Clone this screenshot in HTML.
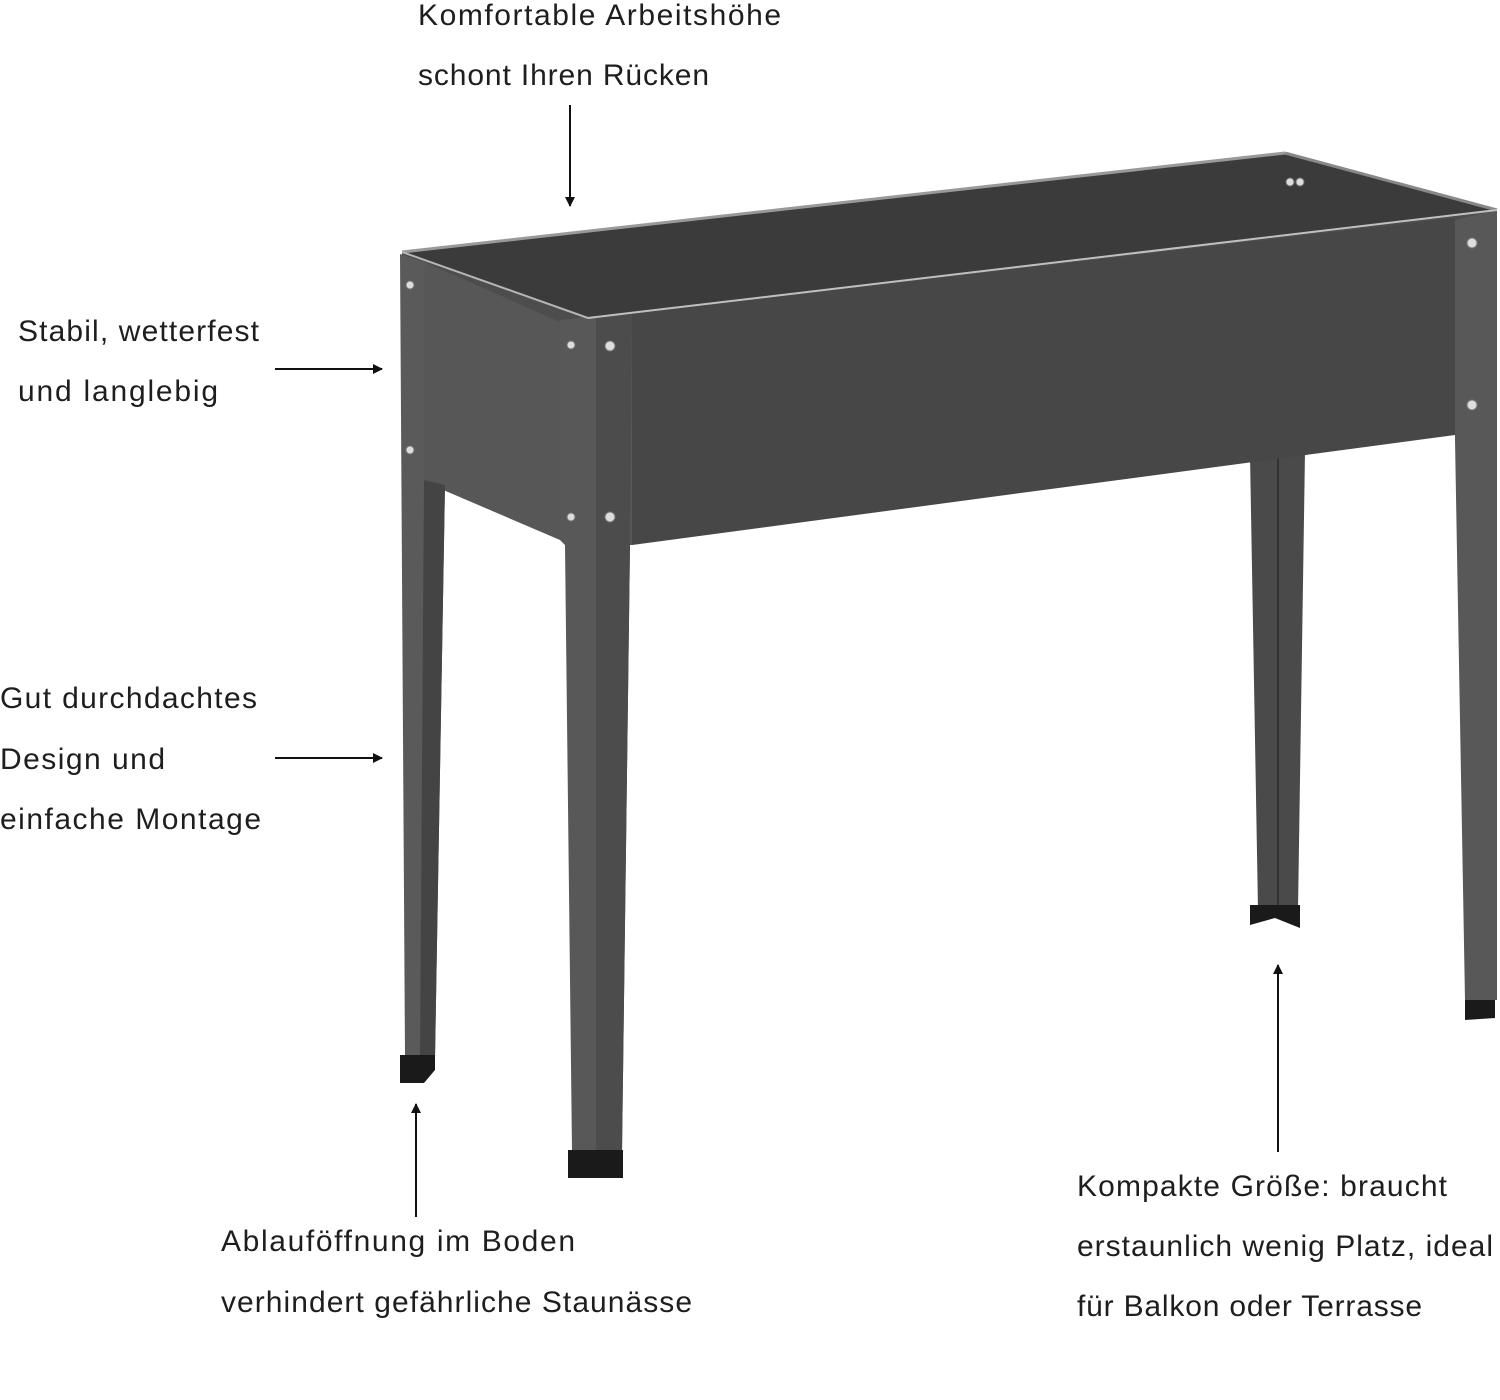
<!DOCTYPE html>
<html><head><meta charset="utf-8"><style>
html,body{margin:0;padding:0;background:#fff;}
svg{display:block;}
text{font-family:"Liberation Sans",sans-serif;font-size:30px;fill:#1e1e1e;}
</style></head><body>
<svg width="1500" height="1400" viewBox="0 0 1500 1400" xmlns="http://www.w3.org/2000/svg">
<defs><marker id="a" markerWidth="10" markerHeight="10" refX="9" refY="5" orient="auto" markerUnits="userSpaceOnUse"><path d="M0,0 L10,5 L0,10 z" fill="#111"/></marker></defs>
<!-- back right leg -->
<polygon points="1250,455 1305,452 1298,910 1258,910" fill="#4a4a4a"/>
<line x1="1278" y1="455" x2="1278" y2="910" stroke="#333" stroke-width="2"/>
<polygon points="1250,905 1300,905 1300,928 1275,918 1250,925" fill="#1a1a1a"/>
<!-- interior -->
<polygon points="402,252 1285,153 1497,210 588,318" fill="#3b3b3b"/>
<line x1="402" y1="252" x2="1285" y2="153" stroke="#999" stroke-width="3"/>
<line x1="1285" y1="153" x2="1497" y2="210" stroke="#888" stroke-width="3"/>
<!-- filler under rim -->
<polygon points="402,252 588,318 1497,210 1497,245 1455,245 632,335 560,340 402,275" fill="#4d4d4d"/>
<!-- left side panel -->
<polygon points="420,260 560,322 560,540 420,480" fill="#575757"/>
<!-- back-left leg -->
<polygon points="400,254 424,262 424,480 445,485 435,1058 405,1058" fill="#5a5a5a"/>
<polygon points="424,480 445,485 435,1058 420,1058" fill="#444"/>
<polygon points="400,1055 435,1055 435,1070 424,1083 400,1083" fill="#1a1a1a"/>
<!-- front panel -->
<polygon points="620,315 1455,218 1455,435 632,545" fill="#474747"/>
<!-- front-left leg post -->
<polygon points="560,320 632,312 632,545 630,545 622,1152 572,1152 565,545 560,540" fill="#585858"/>
<polygon points="596,316 632,312 630,545 622,1152 596,1152" fill="#4c4c4c"/>
<polygon points="568,1150 623,1150 623,1178 568,1178" fill="#1a1a1a"/>
<!-- front-right leg -->
<polygon points="1455,220 1497,210 1497,1000 1465,1000 1455,440" fill="#585858"/>
<polygon points="1465,1000 1495,1000 1495,1018 1465,1020" fill="#1a1a1a"/>
<!-- rim -->
<line x1="402" y1="252" x2="588" y2="318" stroke="#b5b5b5" stroke-width="2"/>
<line x1="588" y1="318" x2="1497" y2="210" stroke="#c0c0c0" stroke-width="2"/>
<!-- bolts -->
<g fill="#ddd" stroke="#777" stroke-width="1">
<circle cx="410" cy="285" r="4"/><circle cx="410" cy="450" r="4"/>
<circle cx="571" cy="345" r="4"/><circle cx="571" cy="517" r="4"/>
<circle cx="610" cy="346" r="5"/><circle cx="610" cy="517" r="5"/>
<circle cx="1472" cy="243" r="5"/><circle cx="1472" cy="405" r="5"/>
<circle cx="1290" cy="182" r="4"/><circle cx="1300" cy="182" r="4"/>
</g>
<!-- arrows -->
<g stroke="#111" stroke-width="2">
<line x1="570" y1="105" x2="570" y2="206" marker-end="url(#a)"/>
<line x1="275" y1="369" x2="382" y2="369" marker-end="url(#a)"/>
<line x1="275" y1="758" x2="382" y2="758" marker-end="url(#a)"/>
<line x1="416" y1="1217" x2="416" y2="1104" marker-end="url(#a)"/>
<line x1="1278" y1="1152" x2="1278" y2="965" marker-end="url(#a)"/>
</g>
<!-- texts -->
<text x="418" y="25" textLength="363" lengthAdjust="spacing">Komfortable Arbeitshöhe</text>
<text x="418" y="85" textLength="291" lengthAdjust="spacing">schont Ihren Rücken</text>
<text x="18" y="341" textLength="241" lengthAdjust="spacing">Stabil, wetterfest</text>
<text x="18" y="401" textLength="200" lengthAdjust="spacing">und langlebig</text>
<text x="0" y="708" textLength="257" lengthAdjust="spacing">Gut durchdachtes</text>
<text x="0" y="769" textLength="165" lengthAdjust="spacing">Design und</text>
<text x="0" y="829" textLength="261" lengthAdjust="spacing">einfache Montage</text>
<text x="221" y="1251" textLength="354" lengthAdjust="spacing">Ablauföffnung im Boden</text>
<text x="221" y="1312" textLength="471" lengthAdjust="spacing">verhindert gefährliche Staunässe</text>
<text x="1077" y="1196" textLength="370" lengthAdjust="spacing">Kompakte Größe: braucht</text>
<text x="1077" y="1256" textLength="416" lengthAdjust="spacing">erstaunlich wenig Platz, ideal</text>
<text x="1077" y="1316" textLength="345" lengthAdjust="spacing">für Balkon oder Terrasse</text>
</svg>
</body></html>
